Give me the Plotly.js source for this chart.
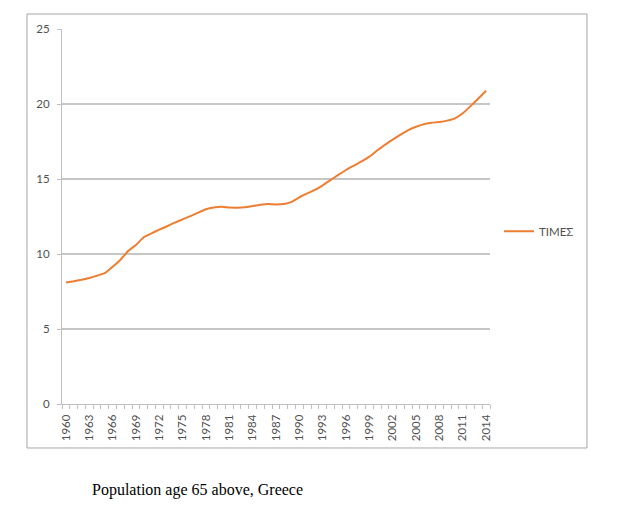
<!DOCTYPE html>
<html>
<head>
<meta charset="utf-8">
<script src="https://cdn.plot.ly/plotly-3.0.1.min.js"></script>
<style>html,body{margin:0;padding:0;background:#fff;}#chart{width:620px;height:510px;}</style>
</head>
<body>
<div id="chart"></div>
<script>
const years = [1960,1961,1962,1963,1964,1965,1966,1967,1968,1969,
  1970,1971,1972,1973,1974,1975,1976,1977,1978,1979,
  1980,1981,1982,1983,1984,1985,1986,1987,1988,1989,
  1990,1991,1992,1993,1994,1995,1996,1997,1998,1999,
  2000,2001,2002,2003,2004,2005,2006,2007,2008,2009,
  2010,2011,2012,2013,2014];
const values = [8.1,8.18,8.28,8.4,8.55,8.72,9.15,9.6,10.2,10.6,
  11.12,11.38,11.62,11.85,12.09,12.31,12.53,12.76,12.98,13.1,
  13.15,13.1,13.09,13.12,13.2,13.28,13.33,13.3,13.33,13.47,
  13.78,14.04,14.27,14.58,14.93,15.27,15.6,15.89,16.17,16.49,
  16.9,17.28,17.63,17.96,18.26,18.48,18.66,18.75,18.8,18.89,
  19.04,19.38,19.86,20.37,20.88];
const tickYears = [1960,1963,1966,1969,1972,1975,1978,1981,1984,1987,1990,1993,1996,1999,2002,2005,2008,2011,2014];
const seriesName = 'ΤΙΜΕΣ';
const caption = 'Population age 65 above, Greece';

const font = {family: 'Lato, "Open Sans", sans-serif', size: 11.5, color: '#505050'};

const trace = {
  x: years, y: values, type: 'scatter', mode: 'lines', name: seriesName,
  line: {color: '#ED7D31', width: 2, shape: 'spline', smoothing: 0.3}
};

const layout = {
  width: 620, height: 510,
  margin: {l: 62, r: 130, t: 29, b: 106},
  paper_bgcolor: '#fff', plot_bgcolor: '#fff',
  font: font,
  showlegend: true,
  legend: {x: 1.021, y: 0.461, xanchor: 'left', yanchor: 'middle', font: font, bgcolor: 'rgba(0,0,0,0)', itemwidth: 30},
  xaxis: {
    type: 'linear', range: [1959.5, 2014.5],
    tickmode: 'array', tickvals: tickYears, ticktext: tickYears.map(String),
    tickangle: -90, ticks: '', showgrid: false, zeroline: false,
    showline: true, linecolor: '#bfbfbf', linewidth: 1,
    ticklabelstandoff: 5,
    tickfont: font,
    minor: {tickmode: 'linear', tick0: 1959.5, dtick: 1, ticks: 'outside', ticklen: 4, tickcolor: '#bfbfbf', showgrid: false}
  },
  yaxis: {
    range: [0, 25], dtick: 5, tick0: 0,
    showgrid: true, gridcolor: '#c6c6c6', gridwidth: 1.3,
    zeroline: false, showline: true, linecolor: '#bfbfbf', linewidth: 1,
    ticks: 'outside', ticklen: 4, tickcolor: '#bfbfbf',
    ticklabelstandoff: 5,
    tickfont: font
  },
  shapes: [{
    type: 'rect', xref: 'paper', yref: 'paper',
    x0: -0.0818, x1: 1.2266, y0: -0.1173, y1: 1.04,
    line: {color: '#a6a6a6', width: 1}, fillcolor: 'rgba(0,0,0,0)', layer: 'below'
  }],
  annotations: [{
    text: caption, xref: 'paper', yref: 'paper', x: 0.066, y: -0.229,
    xanchor: 'left', yanchor: 'middle', showarrow: false,
    font: {family: '"Liberation Serif", "Times New Roman", serif', size: 16, color: '#000'}
  }]
};

Plotly.newPlot('chart', [trace], layout, {displayModeBar: false, staticPlot: true});
</script>
</body>
</html>
